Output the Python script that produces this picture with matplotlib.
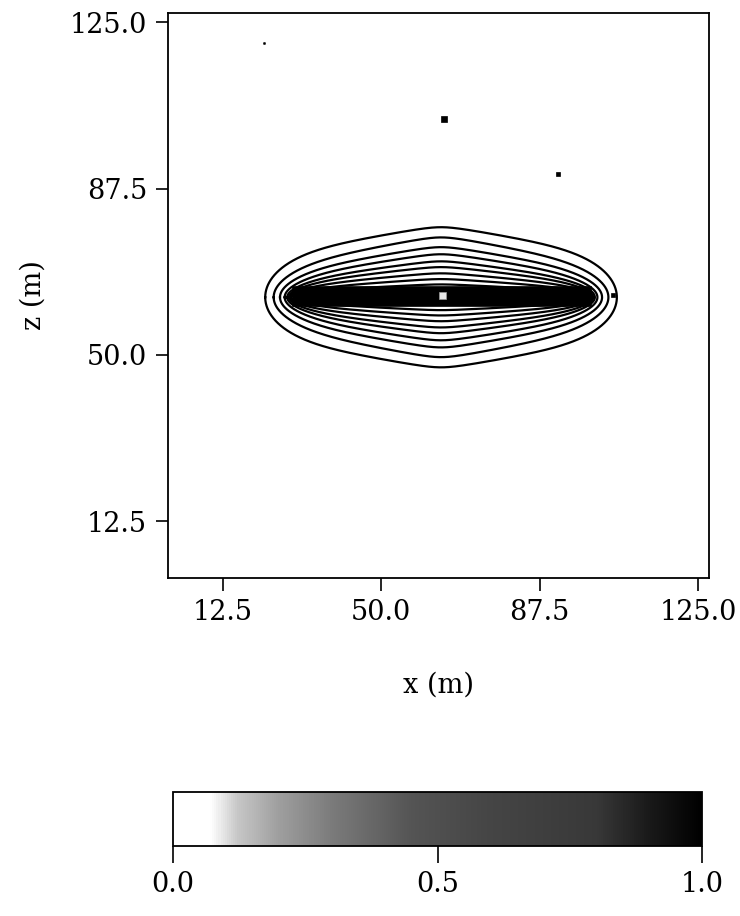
import numpy as np
import matplotlib
matplotlib.use("Agg")
import matplotlib.pyplot as plt
from matplotlib.colors import LinearSegmentedColormap, Normalize
from matplotlib.cm import ScalarMappable
from matplotlib.patches import Rectangle

# ---------------- data ----------------
x_ticks = [12.5, 50.0, 87.5, 125.0]
z_ticks = [12.5, 50.0, 87.5, 125.0]
x_tick_labels = ["12.5", "50.0", "87.5", "125.0"]
z_tick_labels = ["12.5", "50.0", "87.5", "125.0"]
cbar_ticks = [0.0, 0.5, 1.0]
cbar_tick_labels = ["0.0", "0.5", "1.0"]

source_x = 64.2          # centre of the contour family (m)
source_z = 63.0
# contours from outermost to innermost: half height at centre, half length,
# and how strongly each one narrows towards its ends
contour_half_heights = [15.8, 13.5, 11.3, 9.7, 8.1, 6.8, 5.4, 4.1, 2.9]
contour_half_lengths = [41.6, 39.6, 38.1, 37.0, 36.4, 36.0, 35.8, 35.6, 35.5]
contour_taper = [0.42, 0.5, 0.52, 0.54, 0.55, 0.55, 0.55, 0.55, 0.55]

# saturated source strip (black bar)
bar_x = [28.9, 99.6]
bar_z = [61.1, 65.6]
# small white cell at the centre of the strip
hole_x = 64.5
hole_z = 63.3

# isolated specks
speck_x = [65.0, 91.8, 104.9, 22.3]
speck_z = [103.3, 90.9, 63.6, 120.3]
speck_size = [4.0, 3.5, 3.0, 1.2]

# colour bar grey stops
cb_pos = [0.0, 0.07, 0.12, 0.2, 0.3, 0.45, 0.6, 0.8, 0.9, 1.0]
cb_grey = [1.0, 1.0, 0.78, 0.62, 0.48, 0.33, 0.27, 0.22, 0.1, 0.0]

# ---------------- figure ----------------
plt.rcParams['font.family'] = ['DejaVu Serif']
FS = 19.5

fig = plt.figure(figsize=(7.4, 9.16), dpi=100)
W, H = 740.0, 916.0
ax = fig.add_axes([168 / W, 1 - 578 / H, (709 - 168) / W, (578 - 13) / H])

# blunt-ended, tapering outline (rounded hexagon)
phi = np.linspace(0, np.pi, 800)
t = -np.cos(phi)
n_end = 6.0
e = 0.1
sabs = (np.sqrt(t ** 2 + e ** 2) - e) / (np.sqrt(1 + e ** 2) - e)
for h, l, c in zip(contour_half_heights, contour_half_lengths, contour_taper):
    hz = h * np.sqrt(np.clip(1 - np.abs(t) ** n_end, 0, None)) * (1 - c * sabs)
    xs = np.concatenate([source_x + l * t, source_x + l * t[::-1]])
    zs = np.concatenate([source_z + hz, source_z - hz[::-1]])
    ax.plot(xs, zs, color='black', lw=1.6, solid_joinstyle='round', zorder=2)

ax.add_patch(Rectangle((bar_x[0], bar_z[0]), bar_x[1] - bar_x[0], bar_z[1] - bar_z[0],
                       facecolor='black', edgecolor='black', lw=0.5, zorder=3))
ax.add_patch(Rectangle((hole_x - 0.8, hole_z - 0.8), 1.6, 1.6,
                       facecolor='#e8e8e8', edgecolor='#999999', lw=0.5, zorder=4))

for sx, sz, ms in zip(speck_x, speck_z, speck_size):
    ax.plot([sx], [sz], marker='s', ms=ms, color='black', mec='black', mew=0.5,
            linestyle='none', zorder=4)

ax.set_xlim(-0.4, 127.6)
ax.set_ylim(-0.3, 127.1)
ax.set_xticks(x_ticks)
ax.set_xticklabels(x_tick_labels)
ax.set_yticks(z_ticks)
ax.set_yticklabels(z_tick_labels)
ax.tick_params(axis='both', direction='out', length=9, width=1.2, labelsize=FS, pad=6,
               top=False, right=False)
for sp in ax.spines.values():
    sp.set_linewidth(1.3)

ax.set_xlabel('x (m)', fontsize=FS)
ax.set_ylabel('z (m)', fontsize=FS)
ax.xaxis.set_label_coords(0.5, -0.165)
ax.yaxis.set_label_coords(-0.225, 0.5)

# ---------------- colour bar ----------------
cmap = LinearSegmentedColormap.from_list(
    'greys_ref', [(p, (g, g, g)) for p, g in zip(cb_pos, cb_grey)])
cax = fig.add_axes([173 / W, 1 - 846 / H, (702 - 173) / W, (846 - 792) / H])
sm = ScalarMappable(norm=Normalize(0, 1), cmap=cmap)
cb = fig.colorbar(sm, cax=cax, orientation='horizontal')
cb.set_ticks(cbar_ticks)
cb.set_ticklabels(cbar_tick_labels)
cb.ax.tick_params(direction='out', length=12, width=1.2, labelsize=FS, pad=6)
cb.outline.set_linewidth(1.3)

fig.savefig('out.png', dpi=100)
